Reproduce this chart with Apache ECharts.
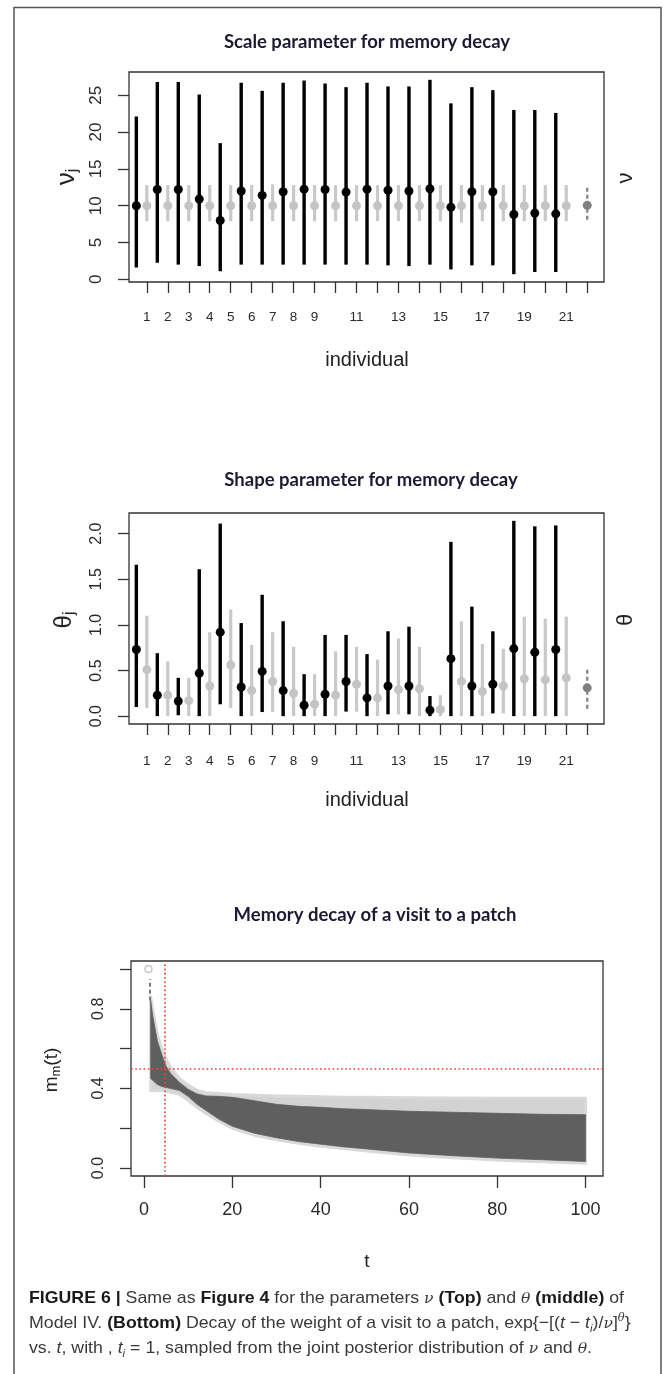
<!DOCTYPE html>
<html><head><meta charset="utf-8">
<script src="https://cdn.jsdelivr.net/npm/echarts@6/dist/echarts.min.js"></script>
<style>
html,body{margin:0;padding:0;background:#fff;}
#chart{position:absolute;left:0;top:0;width:672px;height:1374px;}
.cap{position:absolute;left:29px;font-family:"Liberation Sans Narrow","Liberation Sans",Arial,sans-serif;font-size:17px;color:#3a3a3a;white-space:nowrap;transform-origin:0 50%;line-height:20px;height:20px;}
.cap b{color:#1a1a1a}
.cap i.m{font-family:"DejaVu Serif","Liberation Serif",serif;font-style:italic;font-size:15px}
.cap sub,.cap sup{line-height:0;font-size:11px}
</style></head>
<body>
<div id="chart"></div>
<div class="cap" id="c1" style="top:1288px"><b>FIGURE 6 |</b> Same as <b>Figure 4</b> for the parameters <i class="m">ν</i> <b>(Top)</b> and <i class="m">θ</i> <b>(middle)</b> of</div>
<div class="cap" id="c2" style="top:1313px">Model IV. <b>(Bottom)</b> Decay of the weight of a visit to a patch, exp{−[(<i>t</i> − <i>t<sub>i</sub></i>)/<i class="m">ν</i>]<sup><i class="m" style="font-size:11px">θ</i></sup>}</div>
<div class="cap" id="c3" style="top:1338px">vs. <i>t</i>, with , <i>t<sub>i</sub></i> = 1, sampled from the joint posterior distribution of <i class="m">ν</i> and <i class="m">θ</i>.</div>
<script>
// ---------- data ----------
const xTickValues = [1,2,3,4,5,6,7,8,9,10,11,12,13,14,15,16,17,18,19,20,21,22];
const xLabelValues = [1,2,3,4,5,6,7,8,9,11,13,15,17,19,21];

// Scale parameter nu: individual posteriors (black)
const nuMed = [10.0,12.2,12.2,10.9,8.0,12.0,11.4,11.9,12.25,12.2,11.85,12.25,12.1,12.0,12.3,9.8,11.9,11.9,8.8,9.0,8.9];
const nuLo  = [1.6,2.25,2.0,1.8,1.1,2.0,2.0,2.0,2.0,2.0,2.0,2.0,1.9,1.8,2.0,1.35,1.9,1.9,0.7,1.0,1.0];
const nuHi  = [22.1,26.8,26.8,25.1,18.5,26.7,25.6,26.7,27.0,26.6,26.1,26.7,26.2,26.2,27.1,23.9,26.1,25.7,23.0,23.0,22.6];
// grey
const nuGMed = [10.0,10.0,10.0,10.0,10.0,10.0,10.0,10.0,10.0,10.0,10.0,10.0,10.0,10.0,10.0,10.0,10.0,10.0,10.0,10.0,10.0];
const nuGLo  = [7.9,7.9,7.9,7.9,7.9,7.9,7.9,7.9,7.9,7.9,7.9,7.9,7.9,7.9,7.9,7.7,7.9,7.9,7.9,7.9,7.9];
const nuGHi  = [12.8,12.8,12.8,12.8,12.8,12.8,12.9,12.8,12.8,12.8,12.8,12.8,12.8,12.8,12.8,12.8,12.8,12.8,12.8,12.8,12.8];
// population
const nuPop = [10.05], nuPopLo = [8.1], nuPopHi = [12.6];
const nuTicks = [0,5,10,15,20,25];

// Shape parameter theta
const thMed = [0.73,0.23,0.165,0.47,0.92,0.32,0.49,0.28,0.12,0.24,0.38,0.20,0.33,0.33,0.066,0.63,0.33,0.35,0.74,0.70,0.73];
const thLo  = [0.10,0.0,0.01,0.0,0.13,0.0,0.045,0.0,0.0,0.0,0.05,0.0,0.02,0.02,0.0,0.0,0.0,0.03,0.0,0.0,0.0];
const thHi  = [1.66,0.69,0.42,1.61,2.11,1.02,1.33,1.04,0.46,0.89,0.89,0.68,0.93,0.98,0.22,1.91,1.20,0.93,2.14,2.08,2.09];
const thGMed = [0.51,0.23,0.17,0.33,0.56,0.28,0.38,0.25,0.13,0.23,0.35,0.20,0.29,0.30,0.073,0.38,0.27,0.33,0.41,0.40,0.42];
const thGLo  = [0.09,0.0,0.0,0.0,0.09,0.0,0.045,0.0,0.0,0.0,0.05,0.0,0.02,0.0,0.0,0.0,0.0,0.03,0.0,0.0,0.0];
const thGHi  = [1.10,0.60,0.42,0.92,1.17,0.78,0.92,0.76,0.46,0.71,0.76,0.62,0.85,0.76,0.23,1.04,0.79,0.74,1.09,1.07,1.09];
const thPop = [0.31], thPopLo = [0.08], thPopHi = [0.52];
const thTicks = [0,0.5,1.0,1.5,2.0];

// Memory decay envelopes
const bandT   = [1.5,2,3,4,5,6,8,10,12,14,17,20,25,30,35,40,45,50,60,70,80,90,100];
const darkHi  = [0.84,0.76,0.64,0.57,0.51,0.475,0.43,0.395,0.372,0.362,0.36,0.355,0.338,0.32,0.31,0.305,0.298,0.294,0.285,0.28,0.275,0.27,0.268];
const darkLo  = [0.45,0.44,0.42,0.41,0.405,0.40,0.39,0.36,0.32,0.29,0.245,0.21,0.175,0.152,0.133,0.12,0.107,0.097,0.076,0.062,0.05,0.042,0.033];
const lightHi = [0.86,0.79,0.67,0.60,0.545,0.505,0.45,0.415,0.39,0.378,0.374,0.37,0.366,0.362,0.36,0.358,0.356,0.355,0.353,0.352,0.351,0.35,0.35];
const lightLo = [0.39,0.39,0.39,0.39,0.385,0.38,0.37,0.34,0.305,0.275,0.235,0.20,0.165,0.142,0.125,0.11,0.098,0.087,0.066,0.052,0.04,0.032,0.024];
const startT = [1], startM = [1.0];
const tailT = [1.35], tailLo = [0.84], tailHi = [0.95];
const halfLevel = 0.5, halfTime = 4.7;
const tTicks = [0,20,40,60,80,100];
const mTicks = [0,0.2,0.4,0.6,0.8,1.0];
const mLabels = [0,0.4,0.8];

// ---------- helpers ----------
const FONT = 'Liberation Sans';
function xAxisCfg(gi, min, max, ticks, labels, fs, margin, tickLen, fmt){
  return {type:'value', gridIndex:gi, min, max, splitLine:{show:false},
    axisLine:{show:false, onZero:false},
    axisTick:{show:true, inside:false, length:tickLen, customValues:ticks, lineStyle:{color:'#333', width:1.3}},
    axisLabel:{show:true, customValues:labels, margin, fontSize:fs, color:'#2a2a2a', fontFamily:FONT, formatter:fmt||(v=>String(v)), hideOverlap:false}};
}
function yAxisCfg(gi, min, max, ticks, labels, fs, margin, fmt){
  return {type:'value', gridIndex:gi, min, max, splitLine:{show:false},
    axisLine:{show:false, onZero:false},
    axisTick:{show:true, inside:false, length:11, customValues:ticks, lineStyle:{color:'#333', width:1.3}},
    axisLabel:{show:true, customValues:labels, rotate:90, margin, fontSize:fs, color:'#2a2a2a', fontFamily:FONT, formatter:fmt||(v=>String(v)), hideOverlap:false}};
}
function barRender(color, width, dash){
  return function(params, api){
    const p1 = api.coord([api.value(0), api.value(1)]);
    const p2 = api.coord([api.value(0), api.value(2)]);
    return {type:'line', shape:{x1:p1[0], y1:p1[1], x2:p2[0], y2:p2[1]},
      style:{stroke:color, lineWidth:width, lineDash:dash||null, lineCap:'butt'}};
  };
}
function bars(gi, xs, lo, hi, color, width, dash, z){
  return {type:'custom', xAxisIndex:gi, yAxisIndex:gi, z:z||2, silent:true,
    data: xs.map((x,i)=>[x, lo[i], hi[i]]), encode:{x:0, y:[1,2]},
    renderItem: barRender(color, width, dash)};
}
function dots(gi, xs, ys, color, size, z){
  return {type:'scatter', xAxisIndex:gi, yAxisIndex:gi, z:z||3, silent:true, symbol:'circle', symbolSize:size,
    itemStyle:{color:color, opacity:1}, data: xs.map((x,i)=>[x, ys[i]])};
}
function band(hi, lo, fill, stroke, lw, z){
  return {type:'custom', xAxisIndex:2, yAxisIndex:2, z:z, silent:true,
    data: bandT.map((t,i)=>[t, lo[i], hi[i]]), encode:{x:0, y:[1,2]},
    renderItem: function(params, api){
      if (params.dataIndex !== 0) return null;
      const pts = [];
      for (let i=0;i<bandT.length;i++) pts.push(api.coord([bandT[i], hi[i]]));
      for (let i=bandT.length-1;i>=0;i--) pts.push(api.coord([bandT[i], lo[i]]));
      return {type:'polygon', shape:{points:pts}, style:{fill:fill, stroke:stroke, lineWidth:lw, lineJoin:'round'}};
    }};
}

const blackX = nuMed.map((_,i)=>i+0.5);
const greyX = nuMed.map((_,i)=>i+1);
const popX = [22];

const chart = echarts.init(document.getElementById('chart'), null, {renderer:'canvas'});
const gridStyle = {show:true, borderColor:'#333', borderWidth:1.3, backgroundColor:'transparent'};
const titleStyle = {fontSize:18.5, fontWeight:'bold', fontFamily:'Lato', fill:'#1b1b33', align:'center', verticalAlign:'middle'};
const option = {
  animation:false,
  backgroundColor:'#fff',
  grid:[
    Object.assign({left:129, top:72, width:475, height:210}, gridStyle),
    Object.assign({left:129, top:513, width:475, height:211}, gridStyle),
    Object.assign({left:131, top:961, width:472, height:215}, gridStyle)
  ],
  xAxis:[
    xAxisCfg(0, 0.15, 22.8, xTickValues, xLabelValues, 13.5, 28, 11),
    xAxisCfg(1, 0.15, 22.8, xTickValues, xLabelValues, 13.5, 30, 11),
    xAxisCfg(2, -2.96, 103.96, tTicks, tTicks, 18, 25, 12)
  ],
  yAxis:[
    yAxisCfg(0, -0.36, 28.16, nuTicks, nuTicks, 17, 24),
    yAxisCfg(1, -0.086, 2.226, thTicks, thTicks, 16, 24, v=>v.toFixed(1)),
    yAxisCfg(2, -0.04, 1.04, mTicks, mLabels, 16, 24, v=>v.toFixed(1))
  ],
  graphic:[
    {type:'rect', shape:{x:14, y:7.5, width:647, height:1420}, style:{fill:'none', stroke:'#555', lineWidth:1.5}, silent:true},
    {type:'text', x:367, y:42, style:Object.assign({text:'Scale parameter for memory decay'}, titleStyle)},
    {type:'text', x:371, y:480, style:Object.assign({text:'Shape parameter for memory decay'}, titleStyle)},
    {type:'text', x:375, y:915, style:Object.assign({text:'Memory decay of a visit to a patch'}, titleStyle)},
    {type:'text', x:367, y:360, style:{text:'individual', fontSize:20, fontFamily:FONT, fill:'#222', align:'center', verticalAlign:'middle'}},
    {type:'text', x:367, y:800, style:{text:'individual', fontSize:20, fontFamily:FONT, fill:'#222', align:'center', verticalAlign:'middle'}},
    {type:'text', x:367, y:1262, style:{text:'t', fontSize:19, fontFamily:FONT, fill:'#222', align:'center', verticalAlign:'middle'}},
    {type:'text', x:67, y:177, rotation:Math.PI/2, style:{text:'{a|ν}{b|j}', align:'center', verticalAlign:'middle',
      rich:{a:{fontSize:26, fontFamily:FONT, fill:'#222', lineHeight:28}, b:{fontSize:16, fontFamily:FONT, fill:'#222', verticalAlign:'bottom', lineHeight:28, padding:[8,0,0,0]}}}},
    {type:'text', x:64, y:620, rotation:Math.PI/2, style:{text:'{a|θ}{b|j}', align:'center', verticalAlign:'middle',
      rich:{a:{fontSize:24, fontFamily:FONT, fill:'#222', lineHeight:28}, b:{fontSize:16, fontFamily:FONT, fill:'#222', verticalAlign:'bottom', lineHeight:28, padding:[8,0,0,0]}}}},
    {type:'text', x:626, y:178, rotation:Math.PI/2, style:{text:'ν', fontSize:22, fontFamily:FONT, fill:'#222', align:'center', verticalAlign:'middle'}},
    {type:'text', x:626, y:620, rotation:Math.PI/2, style:{text:'θ', fontSize:22, fontFamily:FONT, fill:'#222', align:'center', verticalAlign:'middle'}},
    {type:'text', x:52, y:1070, rotation:Math.PI/2, style:{text:'{a|m}{b|m}{a|(t)}', align:'center', verticalAlign:'middle',
      rich:{a:{fontSize:19, fontFamily:FONT, fill:'#222', lineHeight:22}, b:{fontSize:13, fontFamily:FONT, fill:'#222', verticalAlign:'bottom', lineHeight:22, padding:[6,0,0,0]}}}}
  ],
  series:[
    // top
    bars(0, greyX, nuGLo, nuGHi, '#c9c9c9', 3.2),
    bars(0, blackX, nuLo, nuHi, '#000', 3.4),
    bars(0, popX, nuPopLo, nuPopHi, '#8c8c8c', 2.5, [4,3]),
    dots(0, greyX, nuGMed, '#c4c4c4', 9),
    dots(0, blackX, nuMed, '#000', 9),
    dots(0, popX, nuPop, '#808080', 9),
    // middle
    bars(1, greyX, thGLo, thGHi, '#c9c9c9', 3.2),
    bars(1, blackX, thLo, thHi, '#000', 3.4),
    bars(1, popX, thPopLo, thPopHi, '#8c8c8c', 2.5, [4,3]),
    dots(1, greyX, thGMed, '#c4c4c4', 9),
    dots(1, blackX, thMed, '#000', 9),
    dots(1, popX, thPop, '#808080', 9),
    // bottom
    band(lightHi, lightLo, '#d2d2d2', '#d9d9d9', 3, 2),
    band(darkHi, darkLo, '#5f5f5f', '#5f5f5f', 0.8, 3),
    bars(2, tailT, tailLo, tailHi, '#7a7a7a', 2, [4,3], 3),
    {type:'scatter', xAxisIndex:2, yAxisIndex:2, z:4, silent:true, symbol:'circle', symbolSize:7,
      itemStyle:{color:'#fff', borderColor:'#b5b5b5', borderWidth:1.5},
      data: startT.map((t,i)=>[t, startM[i]]),
      markLine:{silent:true, symbol:'none', label:{show:false}, animation:false,
        lineStyle:{color:'#ff3b3b', type:[1.6,2.6], width:1.7},
        data:[{yAxis:halfLevel},{xAxis:halfTime}]}}
  ]
};
chart.setOption(option);

// caption: one horizontal compression for all lines, fitted to the first line's width
const c1w = document.getElementById('c1').getBoundingClientRect().width;
const k = (595 / c1w).toFixed(4);
['c1','c2','c3'].forEach(id => { document.getElementById(id).style.transform = 'scaleX(' + k + ')'; });
</script>
</body></html>
